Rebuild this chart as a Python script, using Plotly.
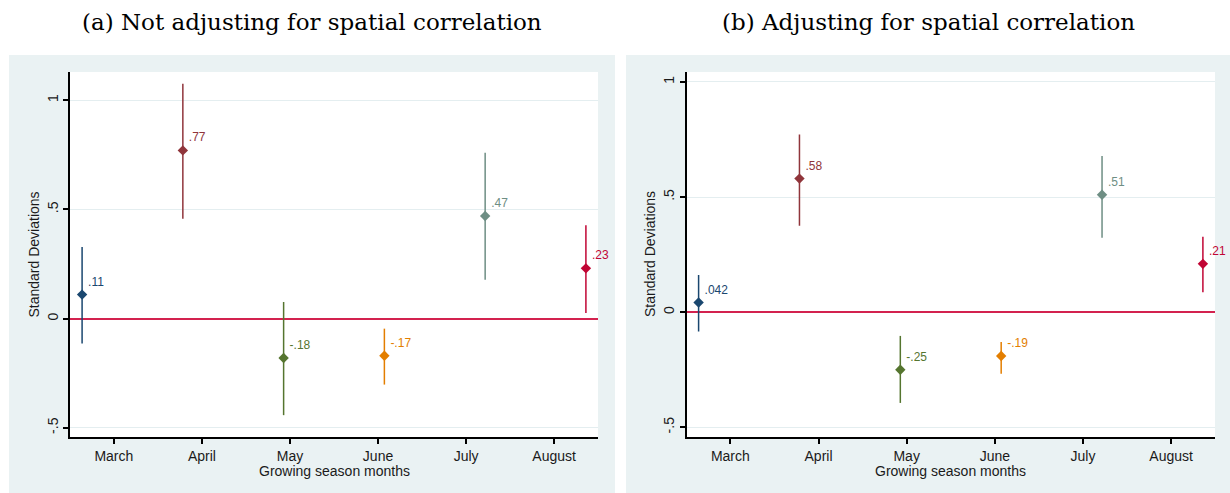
import numpy as np
import plotly.graph_objects as go

# ---------------- data ----------------
months = ["March", "April", "May", "June", "July", "August"]
colors = ["#1a476f", "#90353b", "#55752f", "#e37e00", "#6e8e84", "#c10534"]

coef_a = [0.11, 0.77, -0.18, -0.17, 0.47, 0.23]
lo_a = [-0.114, 0.457, -0.442, -0.302, 0.178, 0.026]
hi_a = [0.328, 1.075, 0.076, -0.046, 0.759, 0.427]
lab_a = [".11", ".77", "-.18", "-.17", ".47", ".23"]

coef_b = [0.042, 0.58, -0.25, -0.19, 0.51, 0.21]
lo_b = [-0.084, 0.375, -0.394, -0.267, 0.323, 0.087]
hi_b = [0.162, 0.772, -0.103, -0.130, 0.678, 0.328]
lab_b = [".042", ".58", "-.25", "-.19", ".51", ".21"]

ytick_vals = [-0.5, 0, 0.5, 1]
ytick_text = ["-.5", "0", ".5", "1"]

titles = ["(a) Not adjusting for spatial correlation",
          "(b) Adjusting for spatial correlation"]

# ---------------- figure ----------------
W, H = 1230, 493
fig = go.Figure()

pos = np.arange(1, len(months) + 1)
tickpos = np.linspace(1.315, 5.685, len(months))
xrange_ = [0.88, 6.12]

panels = [
    ("x", "y", coef_a, lo_a, hi_a, lab_a),
    ("x2", "y2", coef_b, lo_b, hi_b, lab_b),
]
for xa, ya, coef, lo, hi, lab in panels:
    for i in range(len(months)):
        fig.add_trace(go.Scatter(
            x=[pos[i]], y=[coef[i]], xaxis=xa, yaxis=ya,
            mode="markers+text", text=[lab[i]], textposition="top right",
            textfont=dict(family="Liberation Sans, Arial", size=12, color=colors[i]),
            marker=dict(symbol="diamond", size=8, color=colors[i]),
            error_y=dict(type="data", symmetric=False,
                         array=[hi[i] - coef[i]], arrayminus=[coef[i] - lo[i]],
                         color=colors[i], thickness=1.5, width=0),
            showlegend=False, cliponaxis=False,
        ))

px = lambda v: v / W
py = lambda v: 1 - v / H

# panel backgrounds
shapes = []
for x0, x1 in [(9, 615), (626, 1230)]:
    shapes.append(dict(type="rect", xref="paper", yref="paper",
                       x0=px(x0), x1=px(x1), y0=0, y1=py(55),
                       fillcolor="#eaf2f3", line=dict(width=0), layer="below"))
dom_a = [px(70), px(598)]
dom_b = [px(686.5), px(1215)]
ydom = [py(437), py(72)]
for d in (dom_a, dom_b):
    shapes.append(dict(type="rect", xref="paper", yref="paper",
                       x0=d[0], x1=d[1], y0=ydom[0], y1=ydom[1],
                       fillcolor="white", line=dict(width=0), layer="below"))

axis_font = dict(family="Liberation Sans, Arial", size=14, color="#1a1a1a")
common_x = dict(range=xrange_, tickvals=list(tickpos), ticktext=months,
                showline=True, linecolor="black", linewidth=1.5,
                ticks="outside", ticklen=5, tickwidth=1.5, tickcolor="black",
                showgrid=False, zeroline=False, tickfont=axis_font)
common_y = dict(tickvals=ytick_vals, ticktext=ytick_text, tickangle=-90,
                showline=True, linecolor="black", linewidth=1.5,
                ticks="outside", ticklen=5, tickwidth=1.5, tickcolor="black",
                showgrid=True, gridcolor="#e4eef0", gridwidth=1,
                zeroline=True, zerolinecolor="#d3224f", zerolinewidth=1.5,
                tickfont=axis_font)

annotations = []
for t, (x0, x1) in zip(titles, [(9, 615), (626, 1230)]):
    annotations.append(dict(text=t, xref="paper", yref="paper",
                            x=px((x0 + x1) / 2), y=py(22), xanchor="center",
                            yanchor="middle", showarrow=False,
                            font=dict(family="DejaVu Serif", size=23, color="black")))
for d, xt in [(dom_a, 33), (dom_b, 649.5)]:
    annotations.append(dict(text="Growing season months", xref="paper", yref="paper",
                            x=(d[0] + d[1]) / 2, y=py(471), xanchor="center",
                            yanchor="middle", showarrow=False, font=axis_font))
    annotations.append(dict(text="Standard Deviations", xref="paper", yref="paper",
                            x=px(xt), y=(ydom[0] + ydom[1]) / 2, xanchor="center",
                            yanchor="middle", textangle=-90, showarrow=False,
                            font=axis_font))

fig.update_layout(
    width=W, height=H, margin=dict(l=0, r=0, t=0, b=0),
    paper_bgcolor="white", plot_bgcolor="rgba(0,0,0,0)",
    xaxis=dict(domain=dom_a, anchor="y", **common_x),
    yaxis=dict(domain=ydom, anchor="x", range=[-0.542, 1.129], **common_y),
    xaxis2=dict(domain=dom_b, anchor="y2", **common_x),
    yaxis2=dict(domain=ydom, anchor="x2", range=[-0.542, 1.043], **common_y),
    shapes=shapes, annotations=annotations,
)

fig.write_html("out.html")
